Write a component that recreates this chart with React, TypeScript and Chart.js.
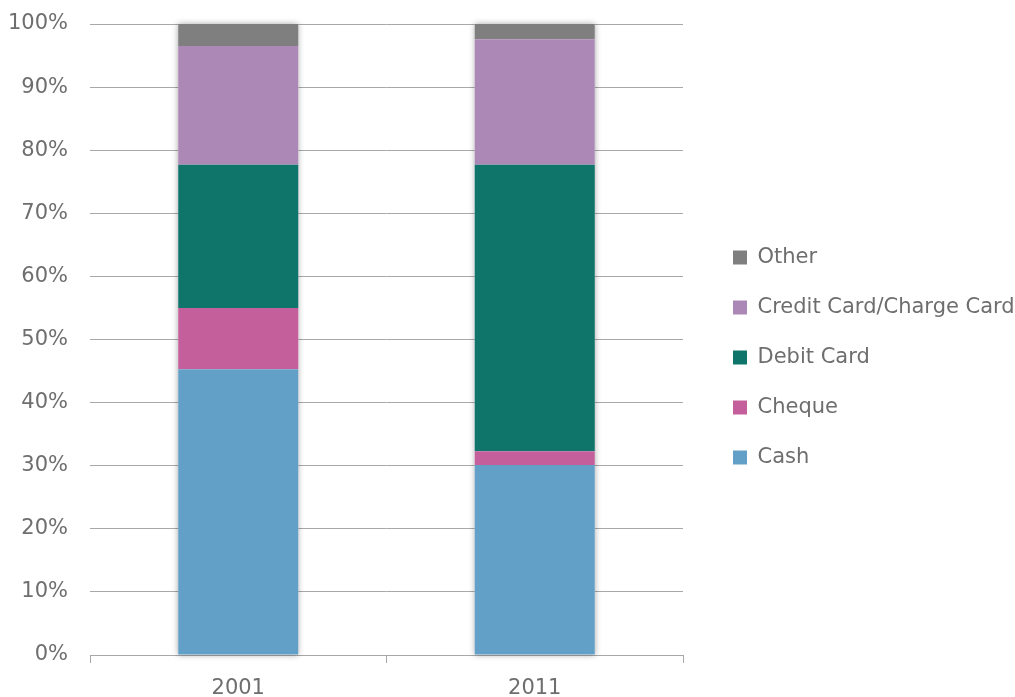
import React, { useEffect, useRef } from "react";
import { Chart, registerables } from "chart.js";

Chart.register(...registerables);

const categories = ["2001", "2011"];
const cash = [45.3, 30.1];
const cheque = [9.7, 2.2];
const debitCard = [22.7, 45.4];
const creditCard = [18.8, 19.9];
const other = [3.5, 2.4];

const seriesNames = ["Cash", "Cheque", "Debit Card", "Credit Card/Charge Card", "Other"];
const seriesColors = ["#63A0C8", "#C45F9B", "#0F746A", "#AB88B5", "#7F7F7F"];

const FONT = "'DejaVu Sans', sans-serif";
const TEXT = "#6E6E6E";
const GRID = "#A8A8A8";
const LEGEND_W = 332;
const LEGEND_SHIFT = 21;
const LEGEND_RAISE = 3;

const shadowPlugin = {
  id: "barShadow",
  beforeDatasetsDraw(chart: any) {
    const ctx = chart.ctx;
    const n = chart.data.labels.length;
    for (let i = 0; i < n; i++) {
      let top = Infinity;
      let bottom = -Infinity;
      let left = 0;
      let width = 0;
      chart.data.datasets.forEach((_: any, d: number) => {
        const el = chart.getDatasetMeta(d).data[i];
        if (!el) return;
        const p = el.getProps(["x", "y", "base", "width"], true);
        top = Math.min(top, p.y, p.base);
        bottom = Math.max(bottom, p.y, p.base);
        left = p.x - p.width / 2;
        width = p.width;
      });
      ctx.save();
      ctx.shadowColor = "rgba(0,0,0,0.35)";
      ctx.shadowBlur = 6;
      ctx.fillStyle = "#ffffff";
      ctx.fillRect(left, top, width, bottom - top);
      ctx.restore();
    }
  },
};

const legendLayoutPlugin = {
  id: "legendLayout",
  beforeLayout(chart: any) {
    const lg = chart.legend;
    if (!lg || lg.__patched) return;
    lg.__patched = true;
    const fit = lg.fit;
    lg.fit = function () {
      fit.call(this);
      this.width = LEGEND_W;
    };
    const draw = lg.draw;
    lg.draw = function (...args: any[]) {
      this.left += LEGEND_SHIFT;
      this.top -= LEGEND_RAISE;
      this.bottom -= LEGEND_RAISE;
      draw.apply(this, args);
      this.left -= LEGEND_SHIFT;
      this.top += LEGEND_RAISE;
      this.bottom += LEGEND_RAISE;
    };
  },
};

export default function App() {
  const ref = useRef<HTMLCanvasElement | null>(null);

  useEffect(() => {
    if (!ref.current) return;
    const values = [cash, cheque, debitCard, creditCard, other];
    const chart = new Chart(ref.current, {
      type: "bar",
      data: {
        labels: categories,
        datasets: values.map((v, i) => ({
          label: seriesNames[i],
          data: v,
          backgroundColor: seriesColors[i],
          borderWidth: 0,
          categoryPercentage: 1,
          barPercentage: 0.405,
        })),
      },
      options: {
        animation: false,
        responsive: true,
        maintainAspectRatio: false,
        layout: { padding: { top: 24, left: 0, right: 0, bottom: 0 } },
        plugins: {
          tooltip: { enabled: false },
          legend: {
            position: "right",
            reverse: true,
            labels: {
              boxWidth: 14,
              boxHeight: 14,
              padding: 29,
              color: TEXT,
              font: { family: FONT, size: 21 },
            },
          },
        },
        scales: {
          x: {
            stacked: true,
            grid: {
              drawOnChartArea: false,
              drawTicks: true,
              tickLength: 8,
              color: GRID,
              lineWidth: 1,
            },
            border: { display: true, color: GRID, width: 1 },
            ticks: {
              color: TEXT,
              font: { family: FONT, size: 21 },
              padding: 13,
            },
            afterFit: (scale: any) => {
              scale.height = 42;
            },
          },
          y: {
            stacked: true,
            min: 0,
            max: 100,
            grid: { color: GRID, lineWidth: 1, drawTicks: false },
            border: { display: false },
            ticks: {
              stepSize: 10,
              color: TEXT,
              font: { family: FONT, size: 21 },
              padding: 22,
              callback: (v: any) => v + "%",
            },
            afterFit: (scale: any) => {
              scale.width = 90;
              scale.paddingTop = 0;
              scale.paddingBottom = 0;
            },
          },
        },
      },
      plugins: [shadowPlugin, legendLayoutPlugin],
    });
    return () => chart.destroy();
  }, []);

  return (
    <div style={{ position: "absolute", left: 0, top: 0, width: 1015, height: 697, background: "#fff" }}>
      <canvas ref={ref} style={{ width: "1015px", height: "697px" }} />
    </div>
  );
}
